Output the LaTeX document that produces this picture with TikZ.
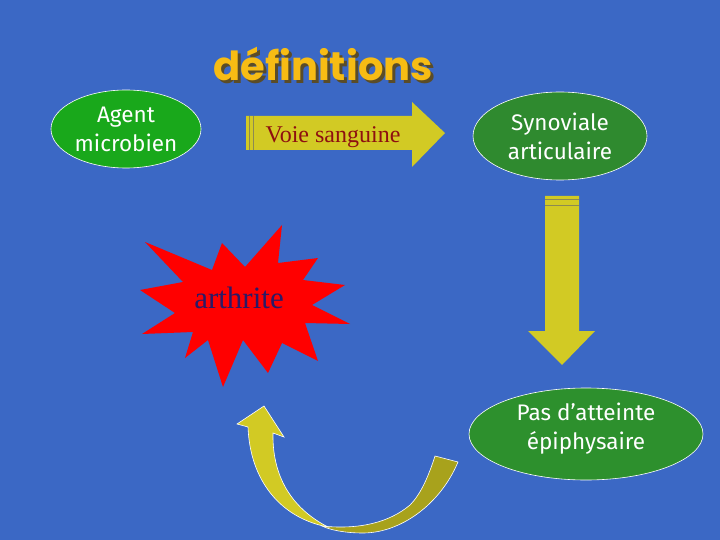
\documentclass[tikz,border=0pt]{standalone}
\usepackage{fontspec}
\usepackage{xcolor}
\setmainfont{Liberation Serif}
\newfontfamily\roundfont{Fira Sans}
\newfontfamily\titlefont{Poppins}
\definecolor{slideblue}{HTML}{3B68C5}
\definecolor{titleyellow}{HTML}{F7BC14}
\definecolor{titleshade}{HTML}{5A4C28}
\definecolor{agentgreen}{HTML}{19A81B}
\definecolor{darkgreen}{HTML}{2F8A2F}
\definecolor{arrowyellow}{HTML}{D2CA24}
\definecolor{arrowolive}{HTML}{A8A21C}
\definecolor{stripe}{HTML}{8C8A52}
\definecolor{bloodred}{HTML}{8E1010}
\definecolor{navy}{HTML}{2B1A66}
\newcommand{\shadowed}[1]{\rlap{\hspace{3pt}\raisebox{-3pt}{\color{titleshade}#1}}#1}
\tikzset{
  bubble/.style={draw=white, line width=0.6pt},
  bubbletext/.style={text=white, font=\roundfont\fontsize{22.5}{29}\selectfont, align=center},
  ribbon/.style={draw=white, line width=0.6pt},
}

\begin{document}
\begin{tikzpicture}[x=1pt,y=-1pt]
\fill[slideblue] (0,0) rectangle (720,540);
\useasboundingbox (0,0) rectangle (720,540);

    % title
    \node[text=titleyellow, font=\titlefont\bfseries\fontsize{40}{40}\selectfont] (title) at (323,65) {\shadowed{définitions}};

    % ellipses
    \filldraw[bubble, fill=agentgreen] (126,129) ellipse (75 and 39);
    \filldraw[bubble, fill=darkgreen] (560,136) ellipse (87 and 44);
    \filldraw[bubble, fill=darkgreen!95!green] (586,434) ellipse (117 and 46);

    \node[bubbletext] (agent) at (126,129) {Agent\\microbien};
    \node[bubbletext] (synoviale) at (560,136) {Synoviale\\articulaire};
    \node[bubbletext] (epiphyse) at (586,429) {Pas d’atteinte\\épiphysaire};

    % block arrows
    \fill[arrowyellow] (246,116) -- (412,116) -- (412,102) -- (445,133)
        -- (412,167) -- (412,150) -- (246,150) -- cycle;
    \draw[stripe, line width=0.8pt] (249.5,116) -- (249.5,150);
    \draw[stripe, line width=0.8pt] (253.5,116) -- (253.5,150);
    \node[text=bloodred, font=\fontsize{24}{24}\selectfont] (voie) at (333,137) {Voie sanguine};

    \fill[arrowyellow] (545,196) -- (579,196) -- (579,331) -- (595,331)
        -- (562,365) -- (528,331) -- (545,331) -- cycle;
    \draw[stripe, line width=0.8pt] (545,199.5) -- (579,199.5);
    \draw[stripe, line width=0.8pt] (545,205.5) -- (579,205.5);

    % starburst
    \fill[red] (350,324) -- (305,323) -- (318,361) -- (282,343) -- (268,373)
        -- (243,340) -- (223,387) -- (208,340) -- (185,358) -- (193,332)
        -- (142,334) -- (175,313) -- (140,290) -- (183,282) -- (145,242)
        -- (212,270) -- (222,243) -- (245,267) -- (282,225) -- (278,263)
        -- (318,258) -- (303,280) -- (345,285) -- (312,305) -- cycle;
    \node[text=navy, font=\fontsize{31}{31}\selectfont] (arthrite) at (239,298) {arthrite};

    % curved arrow, in two twisted pieces
    \filldraw[ribbon, fill=arrowolive] (322,526) .. controls (330,530) and (345,533) .. (363,533)
        .. controls (400,533) and (440,505) .. (458,462) -- (435,456)
        .. controls (428,478) and (420,495) .. (410,505)
        .. controls (390,522) and (360,530) .. cycle;
    \filldraw[ribbon, fill=arrowyellow] (273,433) -- (284,437) -- (264,406) -- (237,424) -- (248,427)
        .. controls (250,480) and (280,518) .. (328,527)
        .. controls (295,510) and (272,480) .. cycle;

\end{tikzpicture}
\end{document}
